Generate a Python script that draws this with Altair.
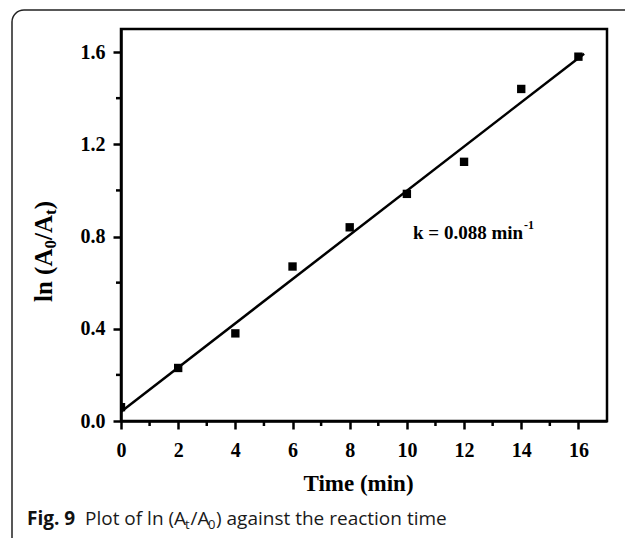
import altair as alt
import pandas as pd

# ---- data ----
time_min = [0, 2, 4, 6, 8, 10, 12, 14, 16]
ln_ratio = [0.06, 0.23, 0.38, 0.67, 0.84, 0.985, 1.124, 1.44, 1.58]
fit_time = [0, 16.2]
fit_ln = [0.04, 1.593]
x_major = [0, 2, 4, 6, 8, 10, 12, 14, 16]
x_minor = [1, 3, 5, 7, 9, 11, 13, 15]
y_major = [0.0, 0.4, 0.8, 1.2, 1.6]
y_minor = [0.2, 0.6, 1.0, 1.4]
x_title = "Time (min)"
y_title_parts = [("ln (A", False), ("0", True), ("/A", False), ("t", True), (")", False)]
annot_main = "k = 0.088 min"
annot_sup = "-1"
caption_bold = "Fig. 9"
caption_parts = [("Plot of ln (A", False, 85), ("t", True, 185), ("/A", False, 190.5),
                 ("0", True, 208), (") against the reaction time", False, 216)]

# ---- layout ----
W, H = 486, 392
LEFT, TOP = 121, 29
RIGHT = 625 - LEFT - W
BOTTOM = 538 - TOP - H
SERIF = "Liberation Serif"
SANS = "Open Sans"

df = pd.DataFrame({"time": time_min, "ln": ln_ratio})
fit = pd.DataFrame({"time": fit_time, "ln": fit_ln})
xmin_df = pd.DataFrame({"time": x_minor})
ymin_df = pd.DataFrame({"ln": y_minor})
one = pd.DataFrame({"a": [0]})

xs = alt.Scale(domain=[0, 17], nice=False, zero=False)
ys = alt.Scale(domain=[0, 1.7], nice=False, zero=False)

x_enc = alt.X("time:Q", scale=xs, axis=alt.Axis(
    values=x_major, format="d", title=x_title, labelPadding=11,
    titleX=237, titleY=69, titleBaseline="alphabetic", titleAlign="center",
    titleFontSize=23))
y_enc = alt.Y("ln:Q", scale=ys, axis=alt.Axis(
    values=y_major, format=".1f", title=None, labelPadding=8))

border = alt.Chart(one).mark_rect(
    cornerRadius=12, fill="white", fillOpacity=0, stroke="#222", strokeWidth=1.5
).encode(x=alt.value(12 - LEFT), x2=alt.value(680 - LEFT),
         y=alt.value(10 - TOP), y2=alt.value(600 - TOP))

line = alt.Chart(fit).mark_line(color="black", strokeWidth=2.5).encode(x=x_enc, y=y_enc)
pts = alt.Chart(df).mark_point(shape="square", filled=True, size=70, color="black",
                               opacity=1, clip=True).encode(x="time:Q", y="ln:Q")
xminor = alt.Chart(xmin_df).mark_rule(color="black", strokeWidth=2.5).encode(
    x="time:Q", y=alt.value(H), y2=alt.value(H + 5))
yminor = alt.Chart(ymin_df).mark_rule(color="black", strokeWidth=2.5).encode(
    y="ln:Q", x=alt.value(-5), x2=alt.value(0))

layers = [border, line, pts, xminor, yminor]

# y axis title built from pieces (rotated)
main_fs, sub_fs = 25, 17
widths = {"ln (A": 2.139, "0": 0.5, "/A": 1.0, "t": 0.333, ")": 0.333}
ypos = 302.0
for txt, sub in y_title_parts:
    fs = sub_fs if sub else main_fs
    layers.append(alt.Chart(one).mark_text(
        text=txt, font=SERIF, fontWeight="bold", fontSize=fs, angle=270,
        align="left", baseline="alphabetic", color="black"
    ).encode(x=alt.value((56 if sub else 52) - LEFT), y=alt.value(ypos - TOP)))
    ypos -= widths[txt] * fs

# annotation
layers.append(alt.Chart(one).mark_text(
    text=annot_main, font=SERIF, fontWeight="bold", fontSize=19,
    align="left", baseline="alphabetic", color="black"
).encode(x=alt.value(413 - LEFT), y=alt.value(239 - TOP)))
layers.append(alt.Chart(one).mark_text(
    text=annot_sup, font=SERIF, fontWeight="bold", fontSize=12,
    align="left", baseline="alphabetic", color="black"
).encode(x=alt.value(524 - LEFT), y=alt.value(229 - TOP)))

# caption
layers.append(alt.Chart(one).mark_text(
    text=caption_bold, font=SANS, fontWeight="bold", fontSize=19,
    align="left", baseline="alphabetic", color="#111"
).encode(x=alt.value(27 - LEFT), y=alt.value(525 - TOP)))
for txt, sub, px in caption_parts:
    layers.append(alt.Chart(one).mark_text(
        text=txt, font=SANS, fontSize=13 if sub else 19,
        align="left", baseline="alphabetic", color="#1a1a1a"
    ).encode(x=alt.value(px - LEFT), y=alt.value((529 if sub else 525) - TOP)))

chart = alt.layer(*layers).properties(
    width=W, height=H,
    padding={"left": LEFT, "top": TOP, "right": RIGHT, "bottom": BOTTOM},
    autosize=alt.AutoSizeParams(type="none"),
    background="white",
).configure_view(stroke="black", strokeWidth=2.5).configure_axis(
    labelFont=SERIF, labelFontWeight="bold", labelFontSize=20, labelColor="black",
    titleFont=SERIF, titleFontWeight="bold", titleColor="black",
    domainColor="black", domainWidth=2.5, tickColor="black", tickWidth=2.5,
    tickSize=8, grid=False, labelFlush=False, labelOverlap=False,
)

chart.save("out.html", embed_options={"renderer": "svg", "actions": False})
